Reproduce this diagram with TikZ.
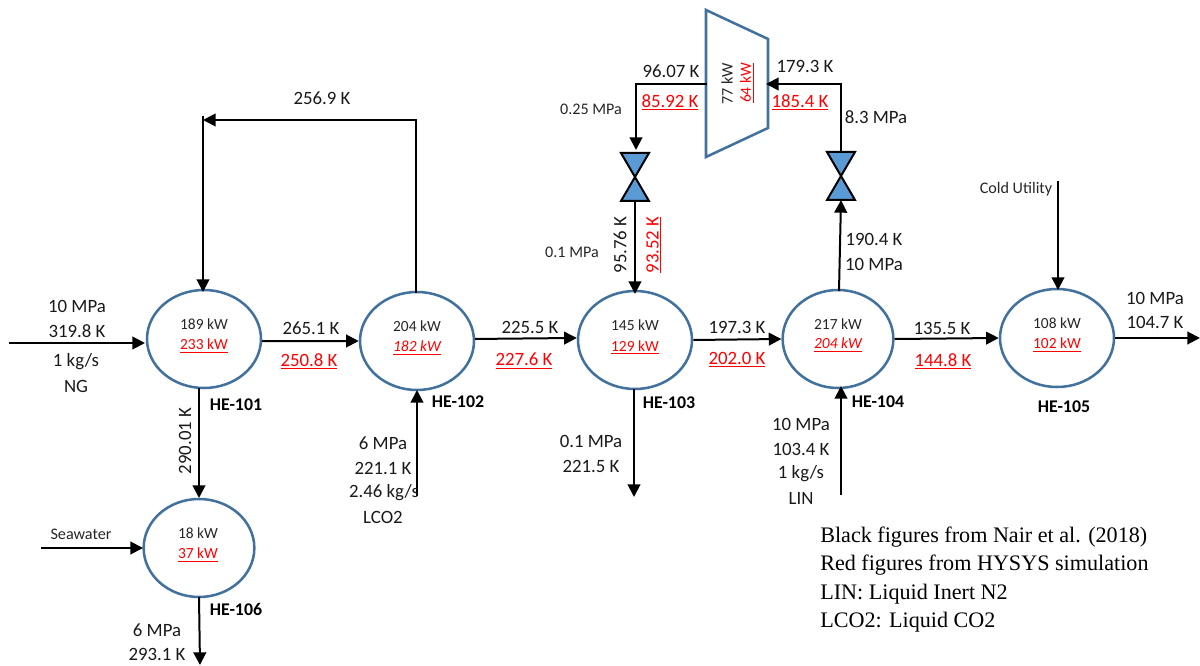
\documentclass[tikz,border=0pt]{standalone}
\usepackage{fontspec}
\setmainfont{Carlito}
\newfontfamily\timesf{Liberation Serif}
\usetikzlibrary{shapes.geometric,arrows.meta}
\definecolor{hxblue}{RGB}{65,113,156}
\definecolor{valveblue}{RGB}{91,155,213}
\tikzset{
  hx/.style={draw=hxblue,line width=1.9pt,ellipse,minimum width=#1,minimum height=73.5pt,inner sep=0pt},
  hx/.default=85.5pt,
  flow/.style={draw=black,line width=1.5pt,-{Triangle[length=9.5pt,width=9.5pt]}},
  lbl/.style={font=\fontsize{14.1}{14.1}\selectfont,inner sep=0pt,text=black!90},
  sml/.style={font=\fontsize{11.6}{11.6}\selectfont,inner sep=0pt,text=black!85},
  smr/.style={font=\fontsize{12.1}{12.1}\selectfont,inner sep=0pt,text=black!85},
  tag/.style={font=\bfseries\fontsize{13.4}{13.4}\selectfont,inner sep=0pt},
  red/.style={font=\fontsize{14.1}{14.1}\selectfont,inner sep=0pt,text=red},
  redsm/.style={font=\fontsize{11.6}{11.6}\selectfont,inner sep=0pt,text=red},
  valve/.style={draw=black,line width=1.5pt,fill=valveblue,line join=miter},
  note/.style={font=\timesf\fontsize{16.6}{16.6}\selectfont,inner sep=0pt,anchor=west}
}
\newcommand{\ul}[1]{\underline{#1}}
\begin{document}
\begin{tikzpicture}[x=0.75pt,y=-0.75pt]
\useasboundingbox (0,0) rectangle (1200,666);
% exchangers
\node[hx] (h1) at (204,339) {};
\node[hx] (h2) at (417,341) {};
\node[hx] (h3) at (635,340) {};
\node[hx=83pt] (h4) at (838,339) {};
\node[hx] (h5) at (1057,338) {};
\node[hx=83pt] (h6) at (199,548) {};
% turbine
\draw[draw=hxblue,line width=1.9pt,line join=miter] (706,10) -- (768,39) -- (768,128) -- (706,157) -- cycle;
% valves
\coordinate (v1t) at (635,153); \coordinate (v1b) at (635,201);
\coordinate (v2t) at (841,152); \coordinate (v2b) at (841,200);
\draw[valve] (621,153) -- (649,153) -- (621,201) -- (649,201) -- cycle;
\draw[valve] (827,152) -- (855,152) -- (827,200) -- (855,200) -- cycle;
% free ends
\coordinate (in1) at (9,343);
\coordinate (loopa) at (416,120);
\coordinate (loopb) at (203,120);
\coordinate (in2) at (417,496);
\coordinate (sw) at (41,548);
\coordinate (out6) at (200,665);
\coordinate (out3) at (634,497);
\coordinate (in4) at (841,495);
\coordinate (cold) at (1058,181);
\coordinate (out5) at (1200,338);
\coordinate (tout) at (707,84);
\coordinate (tcorn) at (636,84);
\coordinate (tin) at (766,84);
\coordinate (vcorn) at (841,84);
% connectors
\draw[flow] (in1) -- (145,343);
\draw[flow] (h1.-2) -- (h2.west);
\draw[flow] (h2.2) -- (h3.178);
\draw[flow] (h3.east) -- (h4.west);
\draw[flow] (h4.east) -- (h5.west);
\draw[flow] (h5.east) -- (out5);
\draw[flow] (416,293) -- (loopa) -- (loopb);
\draw[flow] (203,116) -- (203,292);
\draw[flow] (199,388) -- (199,498);
\draw[flow] (in2) -- (417,390);
\draw[flow] (sw) -- (143,548);
\draw[flow] (199,597) -- (out6);
\draw[flow] (tout) -- (tcorn) -- (636,150);
\draw[flow] (v1b) -- (635,294);
\draw[flow] (634,389) -- (out3);
\draw[flow] (v2t) -- (vcorn) -- (tin);
\draw[flow] (839,291) -- (v2b);
\draw[flow] (in4) -- (841,386);
\draw[flow] (cold) -- (1058,290);
% exchanger duties
\node[sml] at (204,324) {189 kW};
\node[redsm] at (204,346) {\ul{233 kW}};
\node[sml] at (417,326) {204 kW};
\node[redsm] at (417,348) {\ul{\itshape 182 kW}};
\node[sml] at (635,325) {145 kW};
\node[redsm] at (635,347) {\ul{129 kW}};
\node[sml] at (838,324) {217 kW};
\node[redsm] at (838,345) {\ul{\itshape 204 kW}};
\node[sml] at (1057,323) {108 kW};
\node[redsm] at (1057,345) {\ul{102 kW}};
\node[sml] at (198,533) {18 kW};
\node[redsm] at (198,555) {\ul{37 kW}};
% tags
\node[tag] at (236,405) {HE-101};
\node[tag] at (458,402) {HE-102};
\node[tag] at (669,403) {HE-103};
\node[tag] at (878,402) {HE-104};
\node[tag] at (1064,407) {HE-105};
\node[tag] at (236,609) {HE-106};
% stream labels
\node[lbl] at (77,306) {10 MPa};
\node[lbl] at (77,331) {319.8 K};
\node[lbl] at (76,362) {1 kg/s};
\node[lbl] at (76,386) {NG};
\node[lbl] at (311,328) {265.1 K};
\node[red] at (309,361) {\ul{250.8 K}};
\node[lbl] at (530,327) {225.5 K};
\node[red] at (524,361) {\ul{227.6 K}};
\node[lbl] at (737,327) {197.3 K};
\node[red] at (737,360) {\ul{202.0 K}};
\node[lbl] at (942,328) {135.5 K};
\node[red] at (943,361) {\ul{144.8 K}};
\node[lbl] at (1155,298) {10 MPa};
\node[lbl] at (1155,322) {104.7 K};
\node[lbl] at (322,98) {256.9 K};
\node[lbl,rotate=90] at (185,441) {290.01 K};
\node[lbl] at (383,443) {6 MPa};
\node[lbl] at (383,468) {221.1 K};
\node[lbl] at (384,493) {2.46 kg/s};
\node[lbl] at (383,517) {LCO2};
\node[smr] at (81,534) {Seawater};
\node[lbl] at (157,630) {6 MPa};
\node[lbl] at (157,654) {293.1 K};
\node[lbl] at (591,441) {0.1 MPa};
\node[lbl] at (591,466) {221.5 K};
\node[lbl] at (801,424) {10 MPa};
\node[lbl] at (801,449) {103.4 K};
\node[lbl] at (801,474) {1 kg/s};
\node[lbl] at (801,498) {LIN};
\node[smr] at (1016,189) {Cold Utility};
\node[lbl] at (671,71) {96.07 K};
\node[red] at (670,102) {\ul{85.92 K}};
\node[smr] at (591,109) {0.25 MPa};
\node[lbl] at (805,66) {179.3 K};
\node[red] at (800,102) {\ul{185.4 K}};
\node[lbl] at (876,117) {8.3 MPa};
\node[smr,rotate=90] at (727,84) {77 kW};
\node[redsm,rotate=90] at (747,83) {\ul{64 kW}};
\node[lbl,rotate=90] at (620,245) {95.76 K};
\node[red,rotate=90] at (654,245) {\ul{93.52 K}};
\node[smr] at (572,252) {0.1 MPa};
\node[lbl] at (874,239) {190.4 K};
\node[lbl] at (874,264) {10 MPa};
% legend
\node[note] at (820,537) {Black figures from Nair et al. (2018)};
\node[note] at (820,565) {Red figures from HYSYS simulation};
\node[note] at (820,594) {LIN: Liquid Inert N2};
\node[note] at (820,622) {LCO2: Liquid CO2};
\end{tikzpicture}
\end{document}
